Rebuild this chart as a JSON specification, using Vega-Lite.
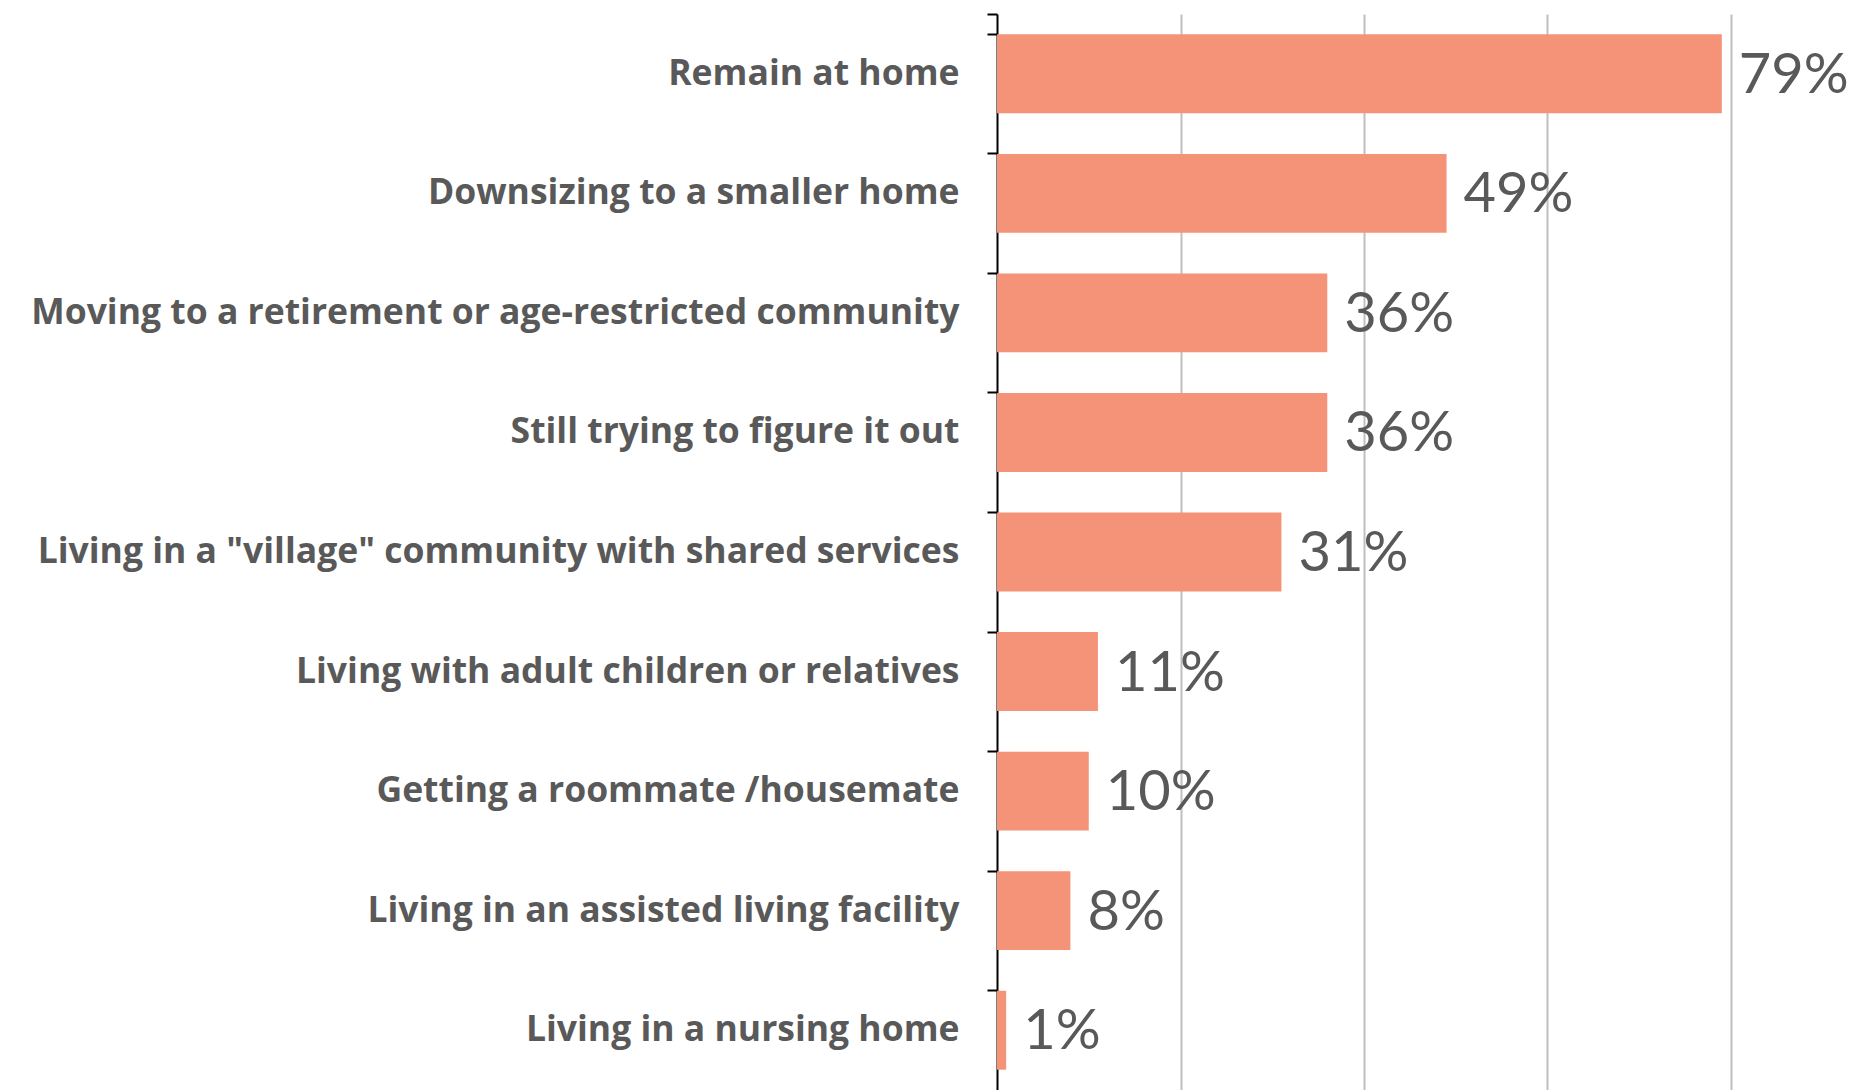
{
  "$schema": "https://vega.github.io/schema/vega-lite/v6.json",
  "autosize": {"type": "none"},
  "width": 734,
  "height": 1076,
  "padding": {"left": 997, "top": 14, "right": 129, "bottom": 0},
  "background": "white",
  "config": {"view": {"stroke": null}},
  "data": {"values": [
    {"option": "Remain at home", "share": 0.79},
    {"option": "Downsizing to a smaller home", "share": 0.49},
    {"option": "Moving to a retirement or age-restricted community", "share": 0.36},
    {"option": "Still trying to figure it out", "share": 0.36},
    {"option": "Living in a \"village\" community with shared services", "share": 0.31},
    {"option": "Living with adult children or relatives", "share": 0.11},
    {"option": "Getting a roommate /housemate", "share": 0.10},
    {"option": "Living in an assisted living facility", "share": 0.08},
    {"option": "Living in a nursing home", "share": 0.01}
  ]},
  "resolve": {"axis": {"y": "independent"}},
  "layer": [
    {
      "mark": {"type": "bar", "color": "#F49377"},
      "encoding": {
        "y": {
          "field": "option", "type": "nominal", "sort": null,
          "scale": {"paddingInner": 0.34, "paddingOuter": 0.17},
          "axis": {
            "title": null, "orient": "left",
            "domainColor": "#000000", "domainWidth": 2,
            "ticks": false,
            "labelFont": "Open Sans", "labelFontWeight": "bold", "labelFontSize": 35.5,
            "labelColor": "#595959", "labelLimit": 1000, "labelPadding": 38
          }
        },
        "x": {
          "field": "share", "type": "quantitative",
          "scale": {"domain": [0, 0.8], "nice": false},
          "axis": {
            "title": null, "labels": false, "ticks": false, "domain": false,
            "grid": true, "gridColor": "#BFBFBF", "gridWidth": 2,
            "values": [0.2, 0.4, 0.6, 0.8]
          }
        }
      }
    },
    {
      "mark": {"type": "text", "align": "left", "baseline": "middle", "dx": 17, "dy": 2,
               "font": "Lato", "fontSize": 56, "color": "#595959"},
      "encoding": {
        "y": {"field": "option", "type": "nominal", "sort": null, "axis": null},
        "x": {"field": "share", "type": "quantitative"},
        "text": {"field": "share", "type": "quantitative", "format": ".0%"}
      }
    },
    {
      "mark": {"type": "rule", "opacity": 0},
      "encoding": {
        "y": {
          "field": "option", "type": "nominal", "sort": null,
          "axis": {
            "title": null, "orient": "left", "labels": false, "domain": false,
            "ticks": true, "bandPosition": 0, "tickExtra": true,
            "tickColor": "#000000", "tickWidth": 2, "tickSize": 10
          }
        }
      }
    }
  ]
}
